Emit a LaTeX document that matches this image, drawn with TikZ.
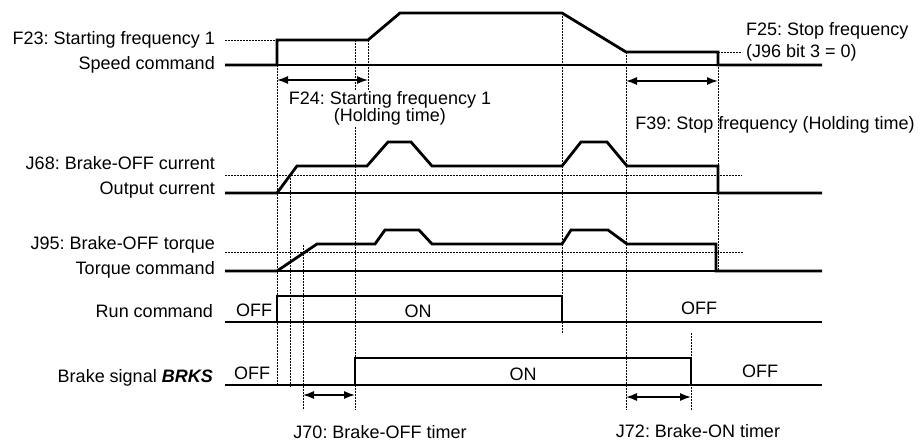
\documentclass[tikz,border=0pt]{standalone}
\usepackage{fontspec}
\setmainfont{Liberation Sans}
\usepackage{tikz}
\usetikzlibrary{positioning,arrows.meta}
\frenchspacing

\begin{document}
\begin{tikzpicture}[x=1pt,y=-1pt,font=\fontsize{18}{21}\selectfont,
  sig/.style={line width=2.8pt},
  base/.style={line width=1.2pt},
  guide/.style={line width=0.9pt,dash pattern=on 1.6pt off 1.4pt},
  dimarr/.style={line width=1.4pt,{Latex[length=11pt,width=8pt]}-{Latex[length=11pt,width=8pt]}},
  lbl/.style={anchor=mid east,inner sep=0pt},
  state/.style={inner sep=0pt}]
\useasboundingbox (0,0) rectangle (922,441);
% guide lines
\draw[guide] (277,65)--(277,385);
\draw[guide] (290,175)--(290,387);
\draw[guide] (303,245)--(303,410);
\draw[guide] (355,40)--(355,410);
\draw[guide] (368,40)--(368,92);
\draw[guide] (562,13)--(562,333);
\draw[guide] (626,52)--(626,410);
\draw[guide] (718,52)--(718,271);
\draw[guide] (691,333)--(691,410);
\draw[guide] (225,40)--(277,40);
\draw[guide] (718,52)--(742,52);
\draw[guide] (225,175)--(742,175);
\draw[guide] (225,252)--(743,252);
% speed command
\draw[base] (225,65)--(822,65);
\draw[sig] (225,65)--(277,65)--(277,40)--(368,40)--(400,13)--(562,13)--(626,52)--(718,52)--(718,65)--(822,65);
% output current
\draw[base] (225,193)--(822,193);
\draw[sig] (225,193)--(277,193)--(297,166)--(367,166)--(388,142)--(411,142)--(432,166)--(562,166)--(581,142)--(607,142)--(627,166)--(718,166)--(718,193)--(822,193);
% torque command
\draw[base] (225,271)--(822,271);
\draw[sig] (225,271)--(277,271)--(317,244)--(375,244)--(385,230)--(419,230)--(432,244)--(562,244)--(571,230)--(608,230)--(627,244)--(716,244)--(716,271)--(822,271);
% run command
\draw[base] (225,322)--(822,322);
\draw[sig] (225,322)--(277,322)--(277,296)--(562,296)--(562,322)--(822,322);
% brake signal
\draw[base] (225,385)--(822,385);
\draw[sig] (225,385)--(355,385)--(355,358)--(691,358)--(691,385)--(822,385);
% signal names
\node[lbl] (lblF23) at (215,41.5) {F23: Starting frequency 1};
\node[lbl] (lblSpeed) at (215,66.5) {Speed command};
\node[lbl] (lblJ68) at (215,166.5) {J68: Brake-OFF current};
\node[lbl] (lblCurr) at (215,192) {Output current};
\node[lbl] (lblJ95) at (215,246.5) {J95: Brake-OFF torque};
\node[lbl] (lblTorq) at (215,271.5) {Torque command};
\node[lbl] (lblRun) at (213,314.5) {Run command};
\node[lbl] (lblBrake) at (213,379.5) {Brake signal \textbf{\textit{BRKS}}};
% states
\node[state] (offRun) at (254,310) {OFF};
\node[state] (onRun) at (418,311) {ON};
\node[state] (offRunB) at (699,308) {OFF};
\node[state] (offBrk) at (252,373) {OFF};
\node[state] (onBrk) at (523,374) {ON};
\node[state] (offBrkB) at (760,371) {OFF};
% holding times and timers
\coordinate (f24a) at (277,80);
\coordinate (f24b) at (368,80);
\coordinate (f39a) at (626,81);
\coordinate (f39b) at (718,81);
\coordinate (j70a) at (303,395);
\coordinate (j70b) at (355,395);
\coordinate (j72a) at (626,397);
\coordinate (j72b) at (691,397);
\draw[dimarr] (f24a)--(f24b);
\draw[dimarr] (f39a)--(f39b);
\draw[dimarr] (j70a)--(j70b);
\draw[dimarr] (j72a)--(j72b);
\node[align=center,fill=white,inner sep=1pt,font=\fontsize{18}{17}\selectfont] (txtF24) at (390,108) {F24: Starting frequency 1\\(Holding time)};
\node[anchor=mid,inner sep=0pt] (txtF39) at (775,126.5) {F39: Stop frequency (Holding time)};
\node[anchor=west,align=left,inner sep=0pt,font=\fontsize{18}{22}\selectfont] (txtF25) at (746,42) {F25: Stop frequency\\(J96 bit 3 = 0)};
\node[anchor=mid,inner sep=0pt] (txtJ70) at (380,435.5) {J70: Brake-OFF timer};
\node[anchor=mid,inner sep=0pt] (txtJ72) at (698,434.5) {J72: Brake-ON timer};
\end{tikzpicture}
\end{document}
